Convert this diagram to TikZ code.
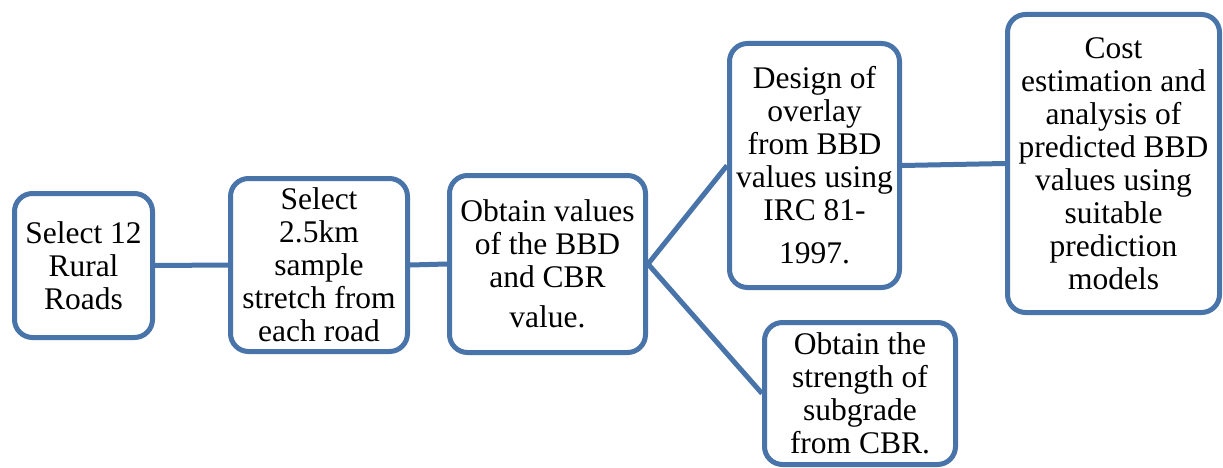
\documentclass[tikz,border=0pt]{standalone}
\usepackage{fontspec}
\setmainfont{Liberation Serif}
\definecolor{boxblue}{RGB}{72,116,170}
\begin{document}
\begin{tikzpicture}[x=1pt,y=-1pt,
  box/.style={draw=boxblue, line width=5pt, rounded corners=18pt, fill=white,
    align=center, inner sep=0pt, font=\fontsize{31.5}{33}\selectfont},
  link/.style={draw=boxblue, line width=5pt}]
\useasboundingbox (0,0) rectangle (1223,468);
\node[box, minimum width=138pt, minimum height=144pt] (b1) at (83.5,265.5) {Select 12\\Rural\\Roads};
\node[box, minimum width=177pt, minimum height=173pt] (b2) at (319,265) {Select\\2.5km\\sample\\stretch from\\each road};
\node[box, minimum width=196pt, minimum height=177pt] (b3) at (547.5,264) {Obtain values\\of the BBD\\and CBR\\[7pt]value.};
\node[box, minimum width=170pt, minimum height=244pt] (b4) at (814.5,165.5) {Design of\\overlay\\from BBD\\values using\\IRC 81-\\[10pt]1997.};
\node[box, minimum width=212pt, minimum height=298pt] (b5) at (1113.5,163.5) {Cost\\estimation and\\analysis of\\predicted BBD\\values using\\suitable\\prediction\\models};
\node[box, minimum width=191pt, minimum height=142pt] (b6) at (860,393.5) {Obtain the\\strength of\\subgrade\\from CBR.};
\draw[link] (b1.east) -- (b2.west);
\draw[link] (b2.east) -- (b3.west);
\draw[link] (b3.east) -- (b4.west);
\draw[link] (b3.east) -- (b6.west);
\draw[link] (b4.east) -- (b5.west);
\end{tikzpicture}
\end{document}
